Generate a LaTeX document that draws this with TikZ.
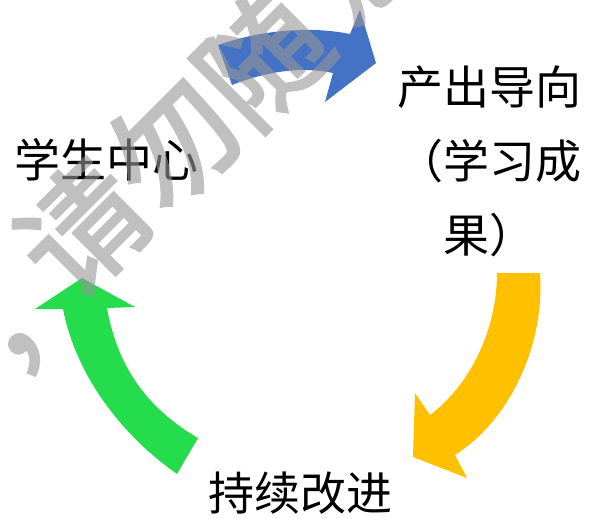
\documentclass[tikz,border=0pt]{standalone}
\usepackage{fontspec}
\newfontfamily\cjk{Noto Sans CJK SC}
\newfontfamily\wmfont[FakeBold=2.5]{Noto Sans CJK SC}
\definecolor{arrBlue}{RGB}{68,114,196}
\definecolor{arrOrange}{RGB}{255,192,0}
\definecolor{arrGreen}{RGB}{36,220,76}
\definecolor{wmGray}{RGB}{150,150,150}
\tikzset{
  label/.style={font=\cjk\fontsize{46}{74}\selectfont, inner sep=0pt, text=black},
  wmark/.style={font=\wmfont\fontsize{124}{124}\selectfont, inner sep=0pt, text=wmGray, rotate=45}
}
\begin{document}
\begin{tikzpicture}[x=1pt,y=-1pt]
\useasboundingbox (0,0) rectangle (592,517);
\fill[white] (0,0) rectangle (592,517);
% arrows
\fill[arrBlue] (218,45) .. controls (250,34) and (300,24) .. (350,34) -- (360,10) -- (376,63) -- (325,102) -- (333,73) .. controls (300,66) and (265,72) .. (232,85) -- cycle;
\fill[arrOrange] (497,273) -- (540,273) .. controls (545,345) and (510,420) .. (455,455) -- (467,478) -- (413,457) -- (415,393) -- (430,415) .. controls (470,385) and (497,330) .. (497,273) -- cycle;
\fill[arrGreen] (82,278) -- (135,307) -- (107,308) .. controls (118,370) and (150,410) .. (198,438) -- (177,474) .. controls (115,430) and (75,370) .. (63,309) -- (35,309) -- cycle;
% labels
\node[label] (student) at (107,160) {学生中心};
\node[label, align=center] (output) at (489,161) {产出导向\\（学习成\\果）};
\node[label] (improve) at (300,493) {持续改进};
% watermark
\begin{scope}[transparency group, opacity=0.6]
\node[wmark] (wm1) at (50,330) {，};
\node[wmark] (wm2) at (82,228) {请};
\node[wmark] (wm3) at (172,143) {勿};
\node[wmark] (wm4) at (262,58) {随};
\node[wmark] (wm5) at (358,-48) {意};
\end{scope}
\end{tikzpicture}
\end{document}
